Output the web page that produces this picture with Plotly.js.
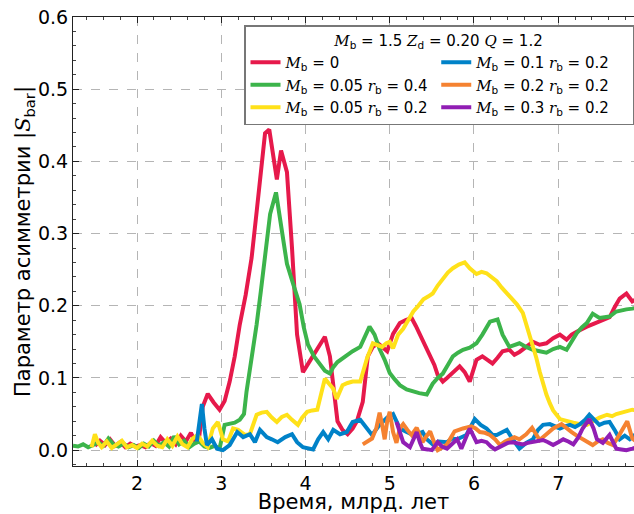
<!DOCTYPE html>
<html>
<head>
<meta charset="utf-8">
<script src="https://cdn.plot.ly/plotly-3.0.1.min.js"></script>
<style>html,body{margin:0;padding:0;background:#fff;}#chart{width:634px;height:514px;}</style>
</head>
<body>
<div id="chart"></div>
<script>
const SV = (s) => '<span style="font-family:\'DejaVu Serif\'"><i>' + s + '</i></span>';
const seriesNames = [
  SV('M') + '<sub>b</sub> = 0',
  SV('M') + '<sub>b</sub> = 0.05 ' + SV('r') + '<sub>b</sub> = 0.4',
  SV('M') + '<sub>b</sub> = 0.05 ' + SV('r') + '<sub>b</sub> = 0.2',
  SV('M') + '<sub>b</sub> = 0.1 ' + SV('r') + '<sub>b</sub> = 0.2',
  SV('M') + '<sub>b</sub> = 0.2 ' + SV('r') + '<sub>b</sub> = 0.2',
  SV('M') + '<sub>b</sub> = 0.3 ' + SV('r') + '<sub>b</sub> = 0.2'
];
const seriesColors = ['#e6194b', '#3cb44b', '#ffe119', '#0082c8', '#f58231', '#911eb4'];
const legendTitle = SV('M') + '<sub>b</sub> = 1.5 ' + SV('Z') + '<sub>d</sub> = 0.20 ' + SV('Q') + ' = 1.2';

const tRed = [1.50,1.56,1.62,1.68,1.74,1.80,1.86,1.92,1.98,2.04,2.10,2.16,2.22,2.28,2.34,2.40,2.46,2.52,2.58,2.64,2.70,2.74,2.78,2.84,2.91,2.98,3.04,3.10,3.16,3.22,3.29,3.36,3.42,3.48,3.52,3.57,3.62,3.66,3.71,3.78,3.84,3.90,3.97,4.07,4.15,4.23,4.29,4.34,4.38,4.44,4.50,4.56,4.61,4.68,4.74,4.80,4.86,4.91,4.97,5.04,5.12,5.19,5.26,5.31,5.36,5.42,5.48,5.53,5.57,5.63,5.68,5.74,5.83,5.89,5.95,6.03,6.10,6.16,6.22,6.28,6.34,6.42,6.48,6.54,6.62,6.70,6.78,6.86,6.94,7.02,7.10,7.16,7.22,7.28,7.34,7.42,7.49,7.55,7.61,7.67,7.73,7.81,7.88,7.95];
const vRed = [0.006,0.013,0.007,0.015,0.006,0.011,0.004,0.009,0.005,0.007,0.004,0.010,0.006,0.018,0.010,0.016,0.008,0.020,0.012,0.024,0.010,0.020,0.060,0.078,0.066,0.056,0.068,0.095,0.130,0.174,0.215,0.266,0.330,0.400,0.439,0.444,0.400,0.375,0.415,0.385,0.280,0.160,0.108,0.127,0.140,0.157,0.130,0.080,0.040,0.028,0.022,0.030,0.040,0.067,0.130,0.143,0.148,0.143,0.137,0.161,0.176,0.180,0.183,0.172,0.160,0.146,0.132,0.118,0.104,0.095,0.100,0.106,0.116,0.108,0.095,0.125,0.130,0.125,0.120,0.128,0.137,0.139,0.132,0.136,0.143,0.150,0.146,0.148,0.155,0.160,0.153,0.160,0.164,0.168,0.171,0.175,0.178,0.180,0.184,0.198,0.210,0.217,0.206,0.210];

const tGreen = [1.24,1.30,1.36,1.42,1.48,1.54,1.60,1.66,1.72,1.78,1.84,1.90,1.96,2.02,2.08,2.14,2.20,2.26,2.32,2.38,2.44,2.50,2.56,2.62,2.68,2.74,2.80,2.86,2.92,2.98,3.04,3.10,3.16,3.22,3.27,3.30,3.36,3.42,3.47,3.52,3.58,3.65,3.70,3.74,3.78,3.87,3.93,3.98,4.03,4.10,4.17,4.23,4.29,4.33,4.38,4.44,4.49,4.56,4.65,4.70,4.76,4.82,4.88,4.94,5.00,5.06,5.12,5.20,5.27,5.35,5.44,5.51,5.57,5.63,5.69,5.75,5.81,5.87,5.95,6.03,6.10,6.19,6.28,6.34,6.42,6.48,6.54,6.62,6.70,6.78,6.86,6.94,7.02,7.10,7.16,7.22,7.28,7.34,7.41,7.49,7.55,7.61,7.69,7.75,7.81,7.88,7.95];
const vGreen = [0.006,0.005,0.008,0.004,0.007,0.011,0.006,0.016,0.008,0.005,0.009,0.004,0.007,0.003,0.009,0.005,0.013,0.006,0.011,0.005,0.019,0.008,0.013,0.004,0.009,0.012,0.005,0.003,0.006,0.002,0.035,0.036,0.038,0.042,0.050,0.081,0.125,0.174,0.220,0.266,0.327,0.357,0.322,0.290,0.258,0.224,0.202,0.170,0.146,0.130,0.118,0.110,0.106,0.115,0.122,0.127,0.132,0.137,0.143,0.155,0.171,0.160,0.140,0.125,0.107,0.098,0.090,0.084,0.081,0.079,0.077,0.092,0.100,0.106,0.118,0.130,0.135,0.139,0.142,0.148,0.160,0.178,0.181,0.160,0.143,0.146,0.148,0.143,0.139,0.137,0.135,0.140,0.143,0.139,0.150,0.162,0.170,0.176,0.189,0.183,0.184,0.185,0.192,0.194,0.195,0.196,0.198];

const tYellow = [1.46,1.50,1.54,1.58,1.64,1.70,1.76,1.82,1.88,1.94,2.00,2.06,2.12,2.18,2.24,2.30,2.36,2.42,2.48,2.54,2.60,2.66,2.72,2.78,2.84,2.90,2.96,3.02,3.08,3.14,3.20,3.28,3.34,3.42,3.48,3.54,3.60,3.66,3.72,3.78,3.84,3.91,3.96,4.02,4.08,4.14,4.19,4.23,4.28,4.33,4.37,4.44,4.50,4.56,4.65,4.73,4.80,4.86,4.91,4.96,5.00,5.04,5.10,5.16,5.22,5.28,5.34,5.40,5.46,5.51,5.57,5.63,5.69,5.75,5.82,5.89,5.95,6.03,6.09,6.15,6.21,6.27,6.33,6.39,6.45,6.51,6.58,6.62,6.66,6.70,6.74,6.78,6.82,6.86,6.90,6.94,7.02,7.10,7.18,7.26,7.34,7.41,7.49,7.58,7.64,7.69,7.75,7.81,7.88,7.95];
const vYellow = [0.004,0.022,0.010,0.004,0.012,0.003,0.008,0.013,0.004,0.007,0.003,0.009,0.005,0.013,0.006,0.004,0.015,0.006,0.019,0.008,0.004,0.016,0.021,0.010,0.004,0.030,0.039,0.015,0.012,0.030,0.028,0.021,0.022,0.049,0.052,0.053,0.045,0.039,0.046,0.049,0.042,0.035,0.045,0.053,0.055,0.056,0.080,0.099,0.092,0.085,0.071,0.090,0.093,0.095,0.095,0.127,0.148,0.146,0.143,0.148,0.150,0.141,0.160,0.168,0.180,0.192,0.200,0.209,0.213,0.217,0.228,0.238,0.246,0.252,0.257,0.260,0.252,0.244,0.247,0.245,0.240,0.234,0.225,0.217,0.210,0.202,0.190,0.174,0.160,0.146,0.128,0.109,0.092,0.077,0.065,0.055,0.043,0.040,0.038,0.036,0.035,0.040,0.045,0.049,0.047,0.050,0.052,0.053,0.056,0.055];

const tBlue = [2.71,2.74,2.77,2.80,2.83,2.89,2.95,3.02,3.10,3.19,3.26,3.34,3.40,3.46,3.54,3.60,3.67,3.76,3.84,3.90,3.97,4.09,4.15,4.21,4.27,4.33,4.41,4.49,4.56,4.65,4.73,4.79,4.88,4.97,5.04,5.12,5.20,5.26,5.32,5.39,5.44,5.51,5.58,5.68,5.74,5.80,5.91,6.01,6.08,6.15,6.22,6.27,6.34,6.39,6.46,6.54,6.62,6.70,6.76,6.82,6.90,6.96,7.02,7.08,7.14,7.20,7.26,7.32,7.37,7.43,7.49,7.55,7.61,7.67,7.73,7.79,7.85,7.92];
const vBlue = [0.012,0.040,0.064,0.030,0.007,0.015,0.002,0.000,0.007,0.025,0.018,0.022,0.011,0.028,0.018,0.015,0.011,0.018,0.022,0.011,0.004,0.001,0.015,0.025,0.015,0.028,0.022,0.025,0.039,0.042,0.029,0.021,0.035,0.045,0.050,0.030,0.025,0.022,0.022,0.025,0.015,0.008,0.012,0.011,0.016,0.015,0.021,0.043,0.035,0.030,0.021,0.021,0.025,0.028,0.015,0.002,0.010,0.015,0.028,0.035,0.036,0.033,0.030,0.033,0.035,0.032,0.036,0.042,0.049,0.042,0.035,0.038,0.039,0.028,0.015,0.020,0.015,0.022];

const tOrange = [4.68,4.74,4.79,4.84,4.88,4.91,4.94,4.97,5.00,5.04,5.08,5.12,5.16,5.21,5.26,5.32,5.39,5.44,5.48,5.53,5.57,5.63,5.68,5.73,5.77,5.87,5.97,6.02,6.07,6.13,6.19,6.25,6.31,6.37,6.42,6.48,6.54,6.62,6.69,6.74,6.78,6.86,6.94,7.04,7.10,7.16,7.22,7.29,7.35,7.41,7.47,7.53,7.59,7.65,7.71,7.77,7.82,7.88,7.93];
const vOrange = [0.008,0.012,0.016,0.030,0.052,0.035,0.015,0.040,0.053,0.025,0.010,0.030,0.036,0.028,0.021,0.031,0.011,0.020,0.026,0.010,0.000,0.004,0.008,0.018,0.026,0.030,0.033,0.030,0.025,0.024,0.021,0.015,0.007,0.012,0.015,0.018,0.015,0.022,0.031,0.020,0.014,0.022,0.030,0.036,0.030,0.025,0.020,0.015,0.010,0.007,0.012,0.015,0.010,0.007,0.018,0.030,0.040,0.016,0.012];

const tPurple = [5.08,5.12,5.16,5.24,5.28,5.32,5.36,5.39,5.45,5.50,5.57,5.62,5.68,5.74,5.80,5.85,5.90,5.95,6.03,6.09,6.15,6.20,6.25,6.34,6.40,6.46,6.52,6.58,6.64,6.70,6.76,6.82,6.88,6.94,7.00,7.06,7.12,7.18,7.24,7.29,7.37,7.42,7.46,7.53,7.61,7.65,7.69,7.75,7.81,7.88,7.94];
const vPurple = [0.039,0.025,0.011,0.004,0.015,0.025,0.010,0.002,0.001,0.000,0.011,0.005,0.002,0.008,0.015,0.002,0.018,0.030,0.011,0.013,0.011,0.005,0.001,0.007,0.010,0.011,0.009,0.008,0.010,0.011,0.013,0.014,0.011,0.007,0.011,0.015,0.012,0.008,0.018,0.030,0.043,0.030,0.015,0.010,0.021,0.012,0.002,0.001,0.000,0.002,0.004];

const xTitle = 'Время, млрд. лет';
const yTitle = 'Параметр асимметрии |' + SV('S') + '<sub>bar</sub>|';

const xs = [tRed, tGreen, tYellow, tBlue, tOrange, tPurple];
const ys = [vRed, vGreen, vYellow, vBlue, vOrange, vPurple];
const ranks = [1, 3, 5, 2, 4, 6];

const traces = xs.map((x, i) => ({
  x: x, y: ys[i], type: 'scatter', mode: 'lines',
  name: seriesNames[i], legendrank: ranks[i],
  line: {color: seriesColors[i], width: 4}
}));

const font = 'DejaVu Sans, sans-serif';
const layout = {
  width: 634, height: 514,
  margin: {l: 73, r: 0, t: 17, b: 48},
  paper_bgcolor: '#fff', plot_bgcolor: '#fff',
  font: {family: font, color: '#000'},
  showlegend: true,
  xaxis: {
    range: [1.24, 7.9], dtick: 1, tick0: 0,
    showline: true, linecolor: '#222', linewidth: 1, mirror: 'ticks',
    ticks: 'inside', ticklen: 6, tickcolor: '#222',
    showgrid: true, gridcolor: '#b5b5b5', griddash: 'dash', gridwidth: 1,
    zeroline: false,
    tickfont: {size: 19, family: font},
    minor: {dtick: 0.2, ticks: 'inside', ticklen: 3, tickcolor: '#444', showgrid: false},
    title: {text: xTitle, font: {size: 21, family: font}, standoff: 8}
  },
  yaxis: {
    range: [-0.022, 0.6], dtick: 0.1, tick0: 0, tickformat: '.1f',
    showline: true, linecolor: '#222', linewidth: 1, mirror: false,
    ticks: 'inside', ticklen: 6, tickcolor: '#222',
    showgrid: true, gridcolor: '#b5b5b5', griddash: 'dash', gridwidth: 1,
    zeroline: false,
    tickfont: {size: 19, family: font},
    minor: {dtick: 0.02, ticks: 'inside', ticklen: 3, tickcolor: '#444', showgrid: false},
    title: {text: yTitle, font: {size: 21, family: font}, standoff: 1}
  },
  legend: {
    x: 1, xanchor: 'right', y: 0.982, yanchor: 'top',
    orientation: 'h', entrywidth: 0.34, entrywidthmode: 'fraction',
    bgcolor: '#fff', bordercolor: '#777', borderwidth: 1.5,
    font: {size: 15, family: font},
    title: {text: legendTitle, side: 'top center', font: {size: 15, family: font}},
    traceorder: 'normal'
  }
};

Plotly.newPlot('chart', traces, layout, {staticPlot: true, displayModeBar: false});
</script>
</body>
</html>
